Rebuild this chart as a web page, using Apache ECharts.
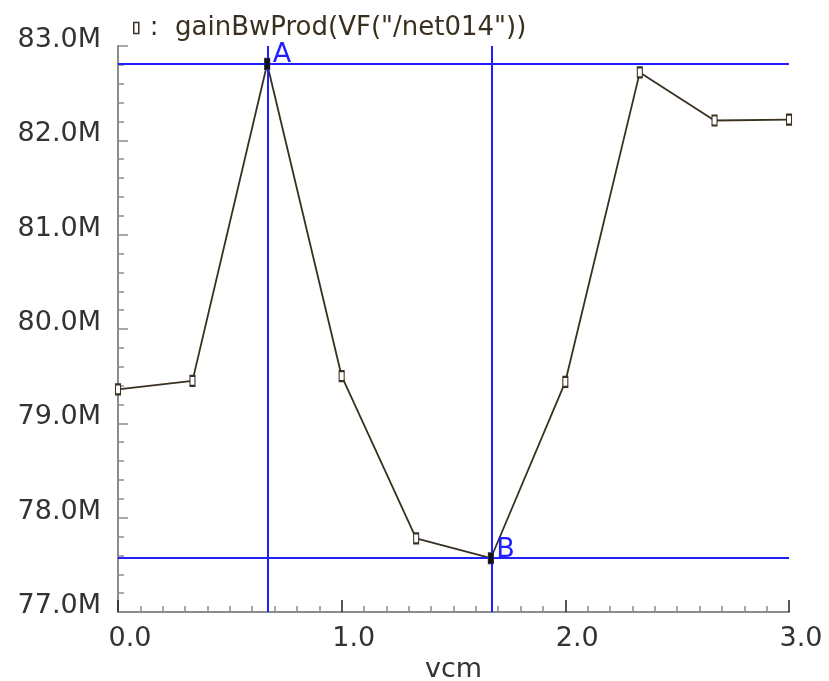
<!DOCTYPE html>
<html>
<head>
<meta charset="utf-8">
<script src="https://cdn.jsdelivr.net/npm/echarts@6/dist/echarts.min.js"></script>
<style>
  html, body { margin: 0; padding: 0; background: #fff; }
  #chart { width: 829px; height: 681px; }
</style>
</head>
<body>
<div id="chart"></div>
<script>
// Sweep of the common-mode voltage and the resulting gain-bandwidth product (MHz)
const vcm = [0, 0.333, 0.667, 1.0, 1.333, 1.667, 2.0, 2.333, 2.667, 3.0];
const gainBw = [79.36, 79.45, 82.81, 79.50, 77.78, 77.57, 79.44, 82.72, 82.21, 82.22];

// Cursor markers placed on the trace
const cursorNames = ['A', 'B'];
const cursorX = [0.667, 1.667];
const cursorY = [82.81, 77.57];

const traceName = 'gainBwProd(VF("/net014"))';
const xTicks = { min: 0, max: 3, step: 1 };
const yTicks = { min: 77, max: 83, step: 1 };

const textFont = 'DejaVu Sans';
const axisGray = '#8c8c8c';
const traceColor = '#3a3020';
const cursorColor = '#1f1fff';

const chart = echarts.init(document.getElementById('chart'), null, { renderer: 'canvas' });

const cursorLines = [];
cursorX.forEach((x, i) => {
  cursorLines.push({ xAxis: x });
  cursorLines.push({ yAxis: cursorY[i] });
});

chart.setOption({
  animation: false,
  backgroundColor: '#ffffff',
  grid: { left: 118, right: 40, top: 46, bottom: 69, containLabel: false, outerBoundsMode: 'none' },
  legend: {
    left: 128,
    top: 10,
    itemWidth: 5,
    itemHeight: 11,
    itemGap: 0,
    icon: 'rect',
    itemStyle: { color: '#ffffff', borderColor: traceColor, borderWidth: 1.5 },
    formatter: () => ':  ' + traceName,
    textStyle: { fontFamily: textFont, fontSize: 26, color: '#3a3020', padding: [0, 0, 0, 6] },
    data: [traceName]
  },
  xAxis: {
    type: 'value',
    min: xTicks.min,
    max: xTicks.max,
    interval: xTicks.step,
    name: 'vcm',
    nameLocation: 'middle',
    nameGap: 43,
    nameTextStyle: { fontFamily: textFont, fontSize: 27, color: '#333333' },
    axisLine: { show: true, onZero: false, lineStyle: { color: axisGray, width: 2 } },
    axisTick: { show: true, inside: true, length: 12, lineStyle: { color: '#222222', width: 1.5 } },
    minorTick: { show: true, splitNumber: 10, length: 6, lineStyle: { color: axisGray, width: 1.5 } },
    splitLine: { show: false },
    axisLabel: {
      fontFamily: textFont,
      fontSize: 27,
      color: '#333333',
      margin: 13,
      padding: [0, 0, 0, 24],
      formatter: v => v.toFixed(1)
    }
  },
  yAxis: {
    type: 'value',
    min: yTicks.min,
    max: yTicks.max,
    interval: yTicks.step,
    axisLine: { show: true, onZero: false, lineStyle: { color: axisGray, width: 2 } },
    axisTick: { show: true, inside: true, length: 10, lineStyle: { color: axisGray, width: 1.5 } },
    minorTick: { show: true, splitNumber: 5, length: 6, lineStyle: { color: axisGray, width: 1.5 } },
    splitLine: { show: false },
    axisLabel: {
      fontFamily: textFont,
      fontSize: 27,
      lineHeight: 12,
      color: '#333333',
      margin: 17,
      verticalAlign: 'bottom',
      formatter: v => v.toFixed(1) + 'M'
    }
  },
  series: [{
    name: traceName,
    type: 'line',
    data: vcm.map((x, i) => [x, gainBw[i]]),
    symbol: 'rect',
    symbolSize: [5, 10],
    showAllSymbol: true,
    lineStyle: { color: traceColor, width: 1.8 },
    itemStyle: { color: '#ffffff', borderColor: traceColor, borderWidth: 1.5 },
    markLine: {
      silent: true,
      symbol: ['none', 'none'],
      label: { show: false },
      lineStyle: { color: cursorColor, width: 2, type: 'solid' },
      data: cursorLines
    },
    markPoint: {
      symbol: 'rect',
      symbolSize: [5, 10],
      itemStyle: { color: '#111111' },
      label: {
        show: true,
        position: 'right',
        distance: 3,
        verticalAlign: 'bottom',
        offset: [0, 5],
        fontFamily: textFont,
        fontSize: 27,
        color: cursorColor,
        formatter: p => p.name
      },
      data: cursorNames.map((n, i) => ({ name: n, coord: [cursorX[i], cursorY[i]] }))
    }
  }]
});
</script>
</body>
</html>
